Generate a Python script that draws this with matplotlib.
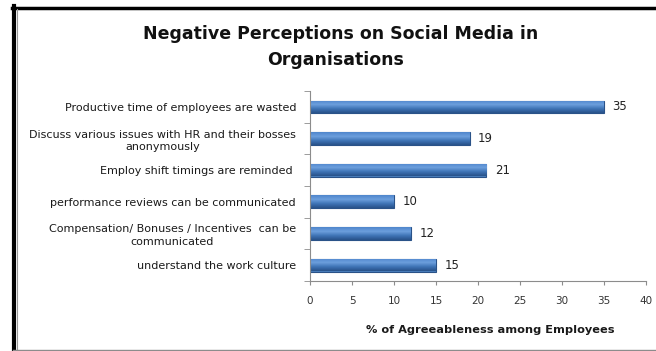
import numpy as np
import matplotlib
matplotlib.use('Agg')
import matplotlib.pyplot as plt
from matplotlib.lines import Line2D
from matplotlib.colors import LinearSegmentedColormap

# datos del grafico (de arriba hacia abajo)
categorias = [
    'Productive time of employees are wasted',
    'Discuss various issues with HR and their bosses\nanonymously',
    'Employ shift timings are reminded ',
    'performance reviews can be communicated',
    'Compensation/ Bonuses / Incentives  can be\ncommunicated',
    'understand the work culture',
]
valores = [35, 19, 21, 10, 12, 15]
ticks_x = [0, 5, 10, 15, 20, 25, 30, 35, 40]

plt.rcParams['font.family'] = ['DejaVu Sans']

fig = plt.figure(figsize=(6.56, 3.51), dpi=100)
ax = fig.add_axes([310 / 656, 1 - 281 / 351, 336 / 656, 190 / 351])

y = np.arange(len(categorias))[::-1]
barras = ax.barh(y, valores, height=0.4, color='#4A7EBB', edgecolor='#2A5288', linewidth=0.8, zorder=2)

# degradado azul dentro de cada barra
grad = LinearSegmentedColormap.from_list('azul', ['#28528A', '#3F74B6', '#6C9FDD', '#4F86CC'])
for b in barras:
    x0, y0, w, h = b.get_x(), b.get_y(), b.get_width(), b.get_height()
    img = ax.imshow(np.linspace(0, 1, 50).reshape(-1, 1), cmap=grad, aspect='auto',
                    extent=[x0, x0 + w, y0, y0 + h], origin='lower', zorder=2.5)
    img.set_clip_path(b)

for yi, v in zip(y, valores):
    ax.text(v + 1.0, yi, str(v), va='center', ha='left', fontsize=8.5, color='#222222')

ax.set_xlim(0, 40)
ax.set_ylim(-0.5, len(categorias) - 0.5)
ax.set_xticks(ticks_x)
ax.set_yticks(y)
ax.set_yticklabels(categorias, fontsize=8, color='#1a1a1a', multialignment='center', linespacing=1.35)
ax.set_yticks(np.arange(len(categorias) + 1) - 0.5, minor=True)
ax.tick_params(axis='y', which='major', length=0, pad=10)
ax.tick_params(axis='y', which='minor', length=4, color='#8c8c8c', direction='out')
ax.tick_params(axis='x', length=3, color='#8c8c8c', pad=8, labelsize=7.5, labelcolor='#333333')

for s in ['top', 'right']:
    ax.spines[s].set_visible(False)
for s in ['left', 'bottom']:
    ax.spines[s].set_color('#8c8c8c')
    ax.spines[s].set_linewidth(0.8)

ax.set_xlabel('% of Agreeableness among Employees', fontsize=8.2, fontweight='bold', color='#1a1a1a')
ax.xaxis.set_label_coords(0.535, -0.23)

fig.text(341 / 656, 1 - 34 / 351, 'Negative Perceptions on Social Media in', ha='center', va='center',
         fontsize=12.5, fontweight='bold', color='#111111')
fig.text(336 / 656, 1 - 60 / 351, 'Organisations', ha='center', va='center',
         fontsize=12.5, fontweight='bold', color='#111111')

# marco del grafico
W, H = 656, 351
fig.add_artist(Line2D([13.5 / W, 13.5 / W], [1 - 6 / H, 1 - 350 / H], color='black', lw=3))
fig.add_artist(Line2D([12 / W, 1], [1 - 7.5 / H, 1 - 7.5 / H], color='black', lw=2.5))
fig.add_artist(Line2D([16.5 / W, 16.5 / W], [1 - 9 / H, 1 - 349 / H], color='#999999', lw=0.8))
fig.add_artist(Line2D([13 / W, 1], [1 - 349.5 / H, 1 - 349.5 / H], color='#8c8c8c', lw=1))

fig.savefig('out.png', dpi=100)
